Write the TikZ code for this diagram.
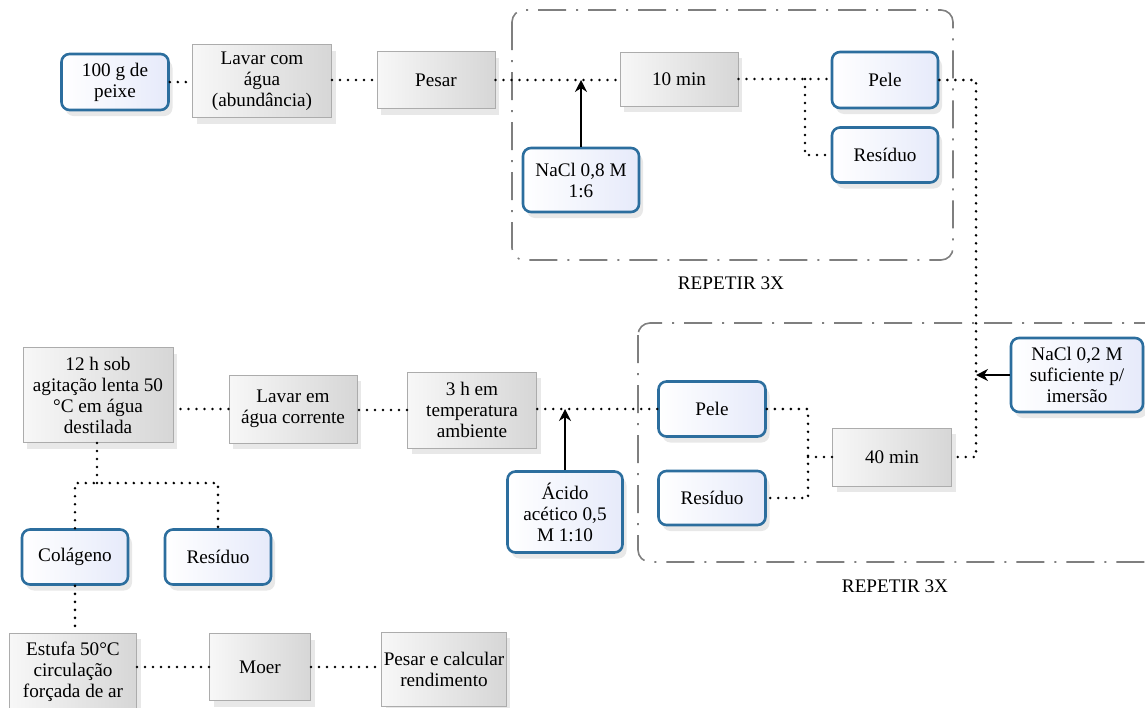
\documentclass[tikz,border=0pt]{standalone}
\usepackage{fontspec}
\setmainfont{Liberation Serif}
\usepackage{tikz}
\usetikzlibrary{arrows.meta,shadows}

\definecolor{boxblue}{HTML}{2C6E9E}
\definecolor{boxfill}{HTML}{E6EAFA}
\definecolor{loopgray}{HTML}{7F7F7F}

\tikzset{
  etapa/.style={draw=gray!65, line width=0.5pt, left color=gray!6, right color=gray!32,
    drop shadow={opacity=0.18, shadow xshift=2pt, shadow yshift=-3pt},
    align=center, inner sep=1pt, font=\fontsize{9.6}{10.5}\selectfont},
  produto/.style={draw=boxblue, line width=1.3pt, rounded corners=4pt,
    left color=white, right color=boxfill,
    drop shadow={opacity=0.18, shadow xshift=2pt, shadow yshift=-3pt},
    align=center, inner sep=1pt, font=\fontsize{9.6}{10.5}\selectfont},
  ligacao/.style={line width=1.45pt, dash pattern=on 0pt off 4pt, line cap=round},
  adicao/.style={line width=0.7pt, -{Stealth[length=6pt,width=6pt]}},
  repetir/.style={draw=loopgray, line width=0.8pt, rounded corners=6pt,
    dash pattern=on 14pt off 5pt on 1pt off 5pt}
}

\begin{document}
\begin{tikzpicture}[x=0.5pt, y=-0.5pt]
\useasboundingbox (0,0) rectangle (1145,707);

% blocos de repeticao
\draw[repetir] (512,10) rectangle (953,260);
\draw[repetir] (638,323) rectangle (1175,562);
\node (rep1) at (731,283) {\fontsize{9.6}{10.5}\selectfont REPETIR 3X};
\node (rep2) at (895,586) {\fontsize{9.6}{10.5}\selectfont REPETIR 3X};

% linha de cima
\node[produto, minimum width=53.5pt, minimum height=28pt] (peixe) at (115,82) {100 g de\\peixe};
\node[etapa, minimum width=69.5pt, minimum height=36.5pt] (lavar) at (262,81) {Lavar com\\água\\(abundância)};
\node[etapa, minimum width=59pt, minimum height=28.5pt] (pesar) at (436,80) {Pesar};
\node[etapa, minimum width=59pt, minimum height=27pt] (dezmin) at (679,79) {10 min};
\node[produto, minimum width=53pt, minimum height=28pt] (pele) at (885,80) {Pele};
\node[produto, minimum width=53pt, minimum height=27.5pt] (residuo) at (885,155) {Resíduo};
\node[produto, minimum width=58pt, minimum height=32pt] (nacla) at (581,180) {NaCl 0,8 M\\1:6};

% linha do meio
\node[produto, minimum width=66pt, minimum height=37pt] (naclb) at (1077,375) {NaCl 0,2 M\\suficiente p/\\imersão};
\node[etapa, minimum width=59.5pt, minimum height=29pt] (quarmin) at (892,457) {40 min};
\node[produto, minimum width=53.5pt, minimum height=27.5pt] (peleb) at (712,409) {Pele};
\node[produto, minimum width=53.5pt, minimum height=27pt] (residuob) at (712,498) {Resíduo};
\node[produto, minimum width=57.5pt, minimum height=40.5pt] (acido) at (565,512) {Ácido\\acético 0,5\\M 1:10};
\node[etapa, minimum width=64.5pt, minimum height=38pt] (tresh) at (472,410) {3 h em\\temperatura\\ambiente};
\node[etapa, minimum width=64pt, minimum height=34pt] (lavarb) at (293,409) {Lavar em\\água corrente};
\node[etapa, minimum width=75pt, minimum height=47.5pt] (dozeh) at (98,395) {12 h sob\\agitação lenta 50\\°C em água\\destilada};

% linha de baixo
\node[produto, minimum width=53pt, minimum height=27.5pt] (colageno) at (75,557) {Colágeno};
\node[produto, minimum width=53pt, minimum height=27.5pt] (residuoc) at (218,557) {Resíduo};
\node[etapa, minimum width=63.5pt, minimum height=39pt] (estufa) at (73,672) {Estufa 50°C\\circulação\\forçada de ar};
\node[etapa, minimum width=50.5pt, minimum height=33.5pt] (moer) at (260,667) {Moer};
\node[etapa, minimum width=61pt, minimum height=37pt] (pesarb) at (444,669) {Pesar e calcular\\rendimento};

% pontos de juncao
\coordinate (ja) at (805,79);
\coordinate (jb) at (976,80);
\coordinate (jc) at (976,457);
\coordinate (jd) at (808,457);
\coordinate (je) at (97,483);

% ligacoes
\draw[ligacao] (peixe.east) -- (lavar.west |- peixe.east);
\draw[ligacao] (lavar.east |- pesar.west) -- (pesar.west);
\draw[ligacao] (pesar.east) -- (dezmin.west |- pesar.east);
\draw[ligacao] (dezmin.east) -- (pele.west |- dezmin.east);
\draw[ligacao] (ja) |- (residuo.west);
\draw[ligacao] (pele.east) -- (jb) -- (jc) -- (quarmin.east);
\draw[ligacao] (quarmin.west) -- (jd);
\draw[ligacao] (peleb.east) -| (jd) |- (residuob.east);
\draw[ligacao] (peleb.west) -- (tresh.east |- peleb.west);
\draw[ligacao] (tresh.west) -- (lavarb.east |- tresh.west);
\draw[ligacao] (lavarb.west) -- (dozeh.east |- lavarb.west);
\draw[ligacao] (dozeh.south -| je) -- (je);
\draw[ligacao] (colageno.north) |- (je) -| (residuoc.north);
\draw[ligacao] (colageno.south) -- (estufa.north -| colageno.south);
\draw[ligacao] (estufa.east |- moer.west) -- (moer.west);
\draw[ligacao] (moer.east) -- (pesarb.west |- moer.east);

% adicoes
\draw[adicao] (nacla.north) -- (nacla.north |- pesar.east);
\draw[adicao] (naclb.west) -- (naclb.west -| jb);
\draw[adicao] (acido.north) -- (acido.north |- peleb.west);
\end{tikzpicture}
\end{document}
